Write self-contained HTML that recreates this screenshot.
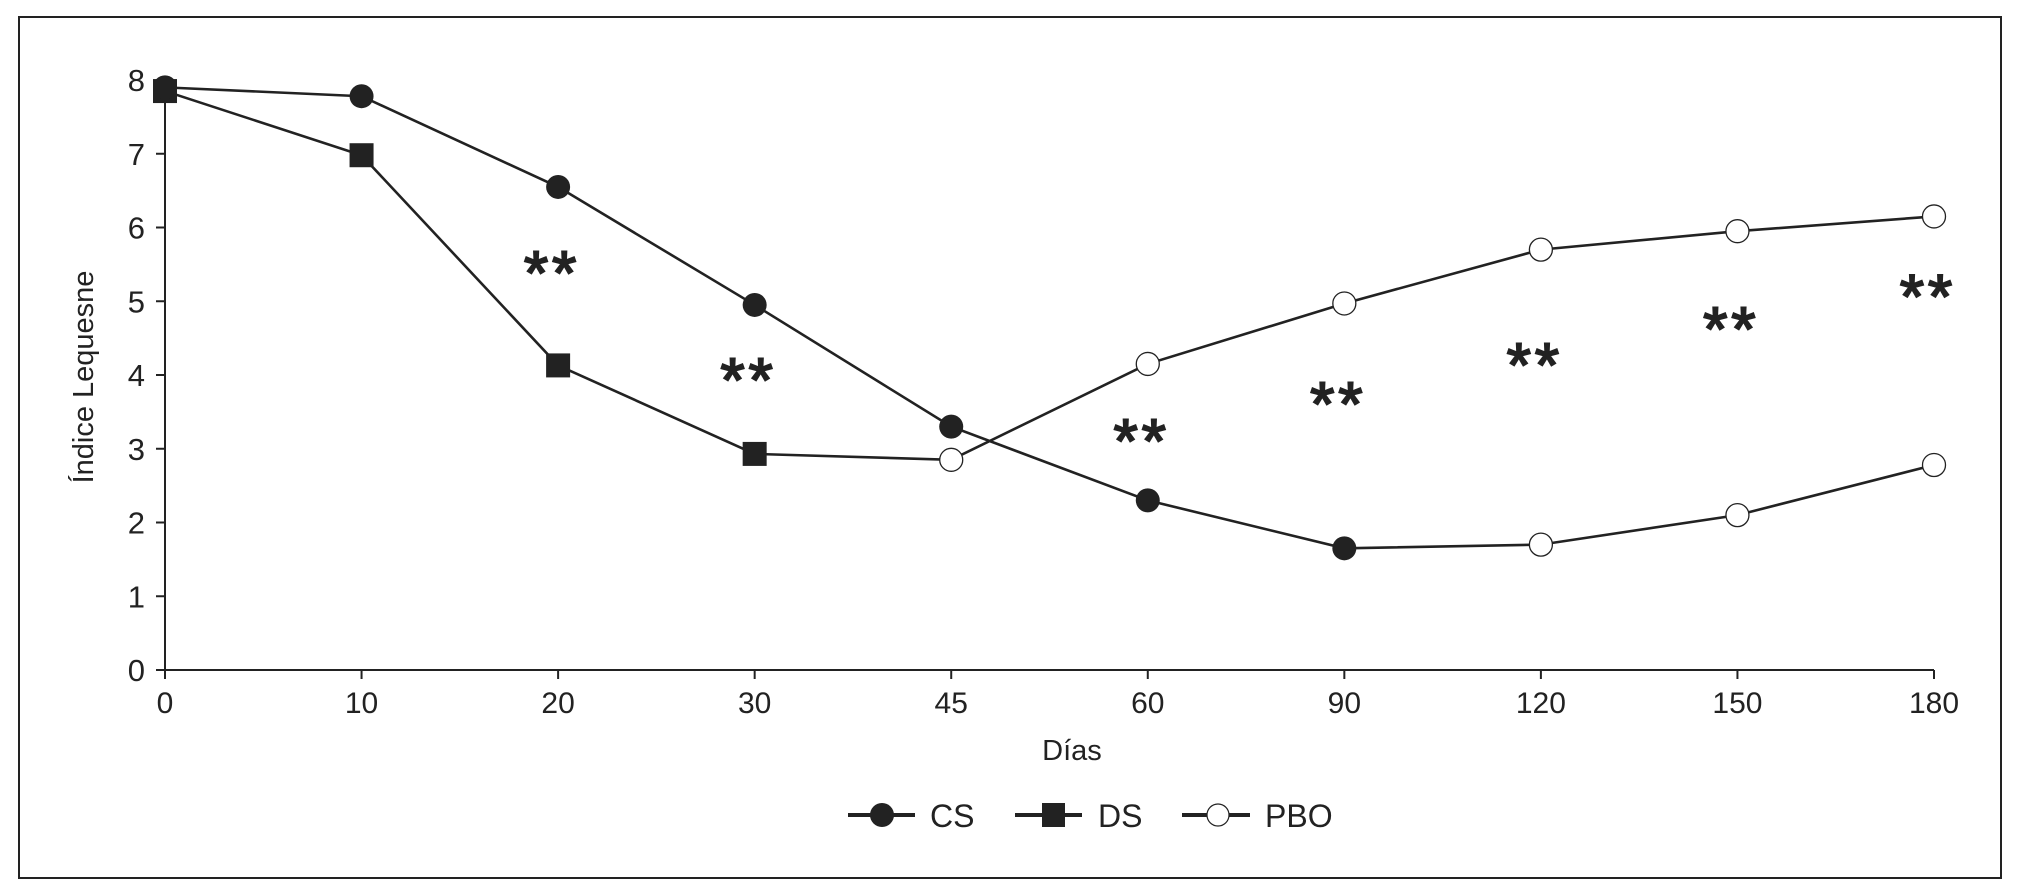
<!DOCTYPE html>
<html><head><meta charset="utf-8"><style>
html,body{margin:0;padding:0;background:#fff;}
svg{display:block;font-family:"Liberation Sans",Arial,sans-serif;}
</style></head><body>
<svg id="chart" width="2029" height="895" viewBox="0 0 2029 895">
<rect x="19" y="17" width="1982" height="861" fill="none" stroke="#222" stroke-width="2"/>
<g id="axes"></g>
<g id="lines"></g>
<g id="marks"></g>
<g id="stars"></g>
<text x="93" y="377" transform="rotate(-90 93 377)" text-anchor="middle" font-size="29" fill="#222">Índice Lequesne</text>
<text x="1072" y="760" text-anchor="middle" font-size="29" fill="#222">Días</text>
<g>
 <g>
  <line x1="848" y1="815" x2="915" y2="815" stroke="#222" stroke-width="4"/>
  <circle cx="882" cy="815" r="12" fill="#222"/>
  <text x="930" y="827" font-size="32" fill="#222">CS</text>
 </g>
 <g>
  <line x1="1015" y1="815" x2="1082" y2="815" stroke="#222" stroke-width="4"/>
  <rect x="1042" y="803" width="23" height="24" fill="#222"/>
  <text x="1098" y="827" font-size="32" fill="#222">DS</text>
 </g>
 <g>
  <line x1="1182" y1="815" x2="1250" y2="815" stroke="#222" stroke-width="4"/>
  <circle cx="1218" cy="815" r="11" fill="#fff" stroke="#222" stroke-width="1.2"/>
  <text x="1265" y="827" font-size="32" fill="#222">PBO</text>
 </g>
</g>
</svg>
<script>
const categories = ["0","10","20","30","45","60","90","120","150","180"];
const yTicks = [0,1,2,3,4,5,6,7,8];
const csValues = [7.9,7.78,6.55,4.95,3.3,2.3,1.65,1.7,2.1,2.78];
const csFilled = [true,true,true,true,true,true,true,false,false,false];
const dsValues = [7.85,6.98,4.13,2.93,2.85,4.15,4.97,5.7,5.95,6.15];
const dsFilled = [true,true,true,true,false,false,false,false,false,false];
const starIdx = [2,3,5,6,7,8,9];
const starVals = [5.5,4.05,3.22,3.72,4.25,4.74,5.18];

const X0=165, X1=1934, Y0=670, Y8=80;
const xs = i => X0 + (X1-X0)*i/(categories.length-1);
const ys = v => Y0 - (Y0-Y8)*v/8;
const NS="http://www.w3.org/2000/svg";
function mk(tag, attrs, parent){const e=document.createElementNS(NS,tag);for(const k in attrs)e.setAttribute(k,attrs[k]);parent.appendChild(e);return e;}
const axes=document.getElementById('axes');
let a=mk('line',{x1:X0,y1:Y0,x2:X1,y2:Y0,stroke:'#222','stroke-width':2},axes);


a=mk('line',{x1:X0,y1:Y0,x2:X0,y2:Y8,stroke:'#222','stroke-width':2},axes);


yTicks.forEach(t=>{
 mk('line',{x1:X0-9,y1:ys(t),x2:X0,y2:ys(t),stroke:'#222','stroke-width':2},axes);
 const tx=mk('text',{x:X0-20,y:ys(t)+11,'text-anchor':'end','font-size':31,fill:'#222'},axes);
 tx.textContent=t;
 
 
});
categories.forEach((c,i)=>{
 mk('line',{x1:xs(i),y1:Y0,x2:xs(i),y2:Y0+9,stroke:'#222','stroke-width':2},axes);
 const tx=mk('text',{x:xs(i),y:Y0+43,'text-anchor':'middle','font-size':30,fill:'#222'},axes);
 tx.textContent=c;
 
 
});
const lines=document.getElementById('lines'), marks=document.getElementById('marks');
function series(vals, filled, shape, name){
 const p=mk('polyline',{points:vals.map((v,i)=>xs(i)+','+ys(v)).join(' '),fill:'none',stroke:'#222','stroke-width':2.6},lines);
 
 
 vals.forEach((v,i)=>{
  let m;
  if(filled[i] && shape==='square'){m=mk('rect',{x:xs(i)-12,y:ys(v)-12,width:24,height:24,fill:'#222'},marks);}
  else if(filled[i]){m=mk('circle',{cx:xs(i),cy:ys(v),r:12,fill:'#222'},marks);}
  else {m=mk('circle',{cx:xs(i),cy:ys(v),r:11.5,fill:'#fff',stroke:'#222','stroke-width':1.3},marks);}
  
  
 });
}
series(dsValues, dsFilled, 'square', 'ds');
series(csValues, csFilled, 'circle', 'cs');
const stars=document.getElementById('stars');
starIdx.forEach((idx,k)=>{
 const t=mk('text',{x:xs(idx)-6,y:ys(starVals[k])+30,'text-anchor':'middle','font-size':62,'letter-spacing':4,fill:'#222',stroke:'#222','stroke-width':2},stars);
 t.textContent='**';
 
 
});
</script>
</body></html>
